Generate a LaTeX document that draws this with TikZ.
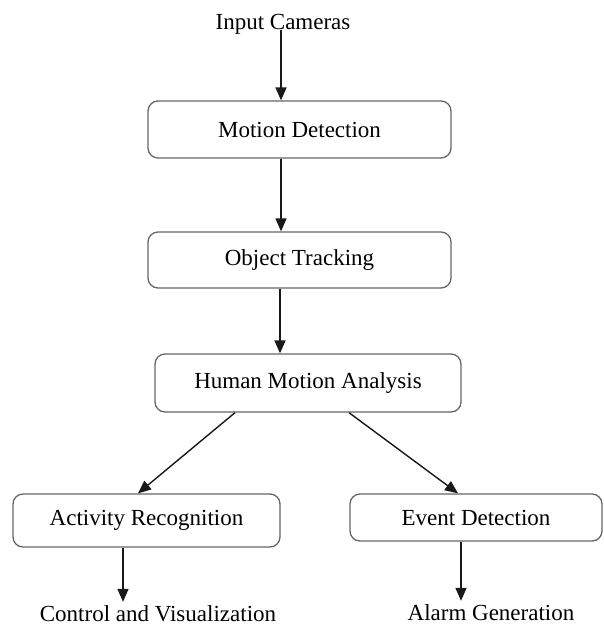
\documentclass[tikz,border=0pt]{standalone}
\usepackage{fontspec}
\setmainfont{Liberation Serif}
\usetikzlibrary{arrows.meta}
\begin{document}
\begin{tikzpicture}[x=1pt,y=-1pt,
  every node/.style={font=\fontsize{23}{27}\selectfont, text=black},
  box/.style={draw=black!60, line width=1.3pt, rounded corners=10pt, inner sep=0pt},
  lbl/.style={inner sep=3pt, anchor=base},
  arr/.style={draw=black!90, line width=1.4pt, -{Triangle[length=13pt,width=11pt]}}]
\useasboundingbox[fill=white] (0,0) rectangle (603,626);
\node[lbl] (cam) at (283,30) {Input Cameras};
\node[box, minimum width=303pt, minimum height=57pt] (md) at (299.5,129.5) {Motion Detection};
\node[box, minimum width=303pt, minimum height=56pt] (ot) at (299.5,260) {Object Tracking};
\node[box, minimum width=306pt, minimum height=58pt] (hma) at (308,383) {Human Motion Analysis};
\node[box, minimum width=267pt, minimum height=53pt] (ar) at (146.5,520.5) {Activity Recognition};
\node[box, minimum width=252pt, minimum height=47pt] (ed) at (476,517.5) {Event Detection};
\node[lbl] (cv) at (158,621) {Control and Visualization};
\node[lbl] (ag) at (491,620) {Alarm Generation};
\draw[arr] ([xshift=-2pt]cam.base) -- ([xshift=-2pt]cam.base |- md.north);
\draw[arr] ([xshift=-18.5pt]md.south) -- ([xshift=-18.5pt]md.south |- ot.north);
\draw[arr] ([xshift=-19.5pt]ot.south) -- ([xshift=-19.5pt]ot.south |- hma.north);
\draw[arr] ([xshift=-73pt]hma.south) -- ([xshift=-8.5pt]ar.north);
\draw[arr] ([xshift=41pt]hma.south) -- ([xshift=-18pt]ed.north);
\draw[arr] ([xshift=-23.5pt]ar.south) -- ([xshift=-23.5pt]ar.south |- cv.north);
\draw[arr] ([xshift=-15pt]ed.south) -- ([xshift=-15pt]ed.south |- ag.north);
\end{tikzpicture}
\end{document}
